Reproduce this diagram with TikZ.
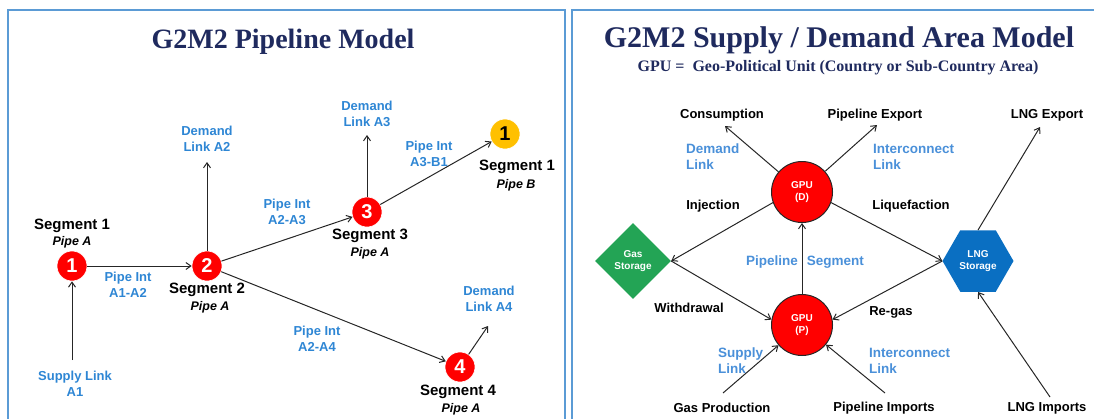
\documentclass[tikz,border=0pt]{standalone}
\usepackage{fontspec}
\setmainfont{Liberation Sans}
\newfontfamily\titlefont{Liberation Serif}
\usetikzlibrary{arrows.meta,shapes.geometric}
\definecolor{frameblue}{HTML}{5B9BD5}
\definecolor{navy}{HTML}{1F2A5E}
\definecolor{lblue}{HTML}{2E86D4}
\definecolor{rblue}{HTML}{4A90D9}
\definecolor{gred}{HTML}{FF0000}
\definecolor{gyellow}{HTML}{FFC000}
\definecolor{ggreen}{HTML}{23A455}
\definecolor{hexblue}{HTML}{0A6FC2}
\tikzset{
  frame/.style={draw=frameblue, line width=2.5pt},
  ttl/.style={text=navy, font=\titlefont\bfseries\fontsize{28}{30}\selectfont},
  segnode/.style={circle, fill=gred, draw=white, line width=0.6pt, minimum size=30pt, inner sep=0pt, text=white, font=\bfseries\fontsize{20}{20}\selectfont},
  seglab/.style={font=\bfseries\fontsize{15}{15}\selectfont, inner sep=1pt},
  pipelab/.style={font=\bfseries\itshape\fontsize{12.5}{12.5}\selectfont, inner sep=1pt},
  bluelab/.style={text=lblue, font=\bfseries\fontsize{13}{15.5}\selectfont, align=center, inner sep=1pt},
  rlab/.style={font=\bfseries\fontsize{13}{15}\selectfont, inner sep=1pt},
  rblab/.style={text=rblue, font=\bfseries\fontsize{13.5}{16}\selectfont, align=left, inner sep=1pt},
  shapetext/.style={text=white, align=center, inner sep=0pt, font=\bfseries\fontsize{10}{12}\selectfont},
  gpu/.style={shapetext, circle, fill=gred, draw=black!85, line width=1pt, minimum size=61pt},
  arr/.style={-{Straight Barb[length=5pt,width=7pt]}, line width=1pt, draw=black!85},
}
\begin{document}
\begin{tikzpicture}[x=1pt,y=-1pt]
\useasboundingbox (0,0) rectangle (1094,418);
\clip (0,0) rectangle (1094,418);
% frames
\draw[frame] (8,430) -- (8,10) -- (565,10) -- (565,430);
\draw[frame] (572,430) -- (572,10) -- (1110,10);

% ---------- left panel ----------
\node[ttl] (tl) at (283,42) {G2M2 Pipeline Model};

\node[segnode] (n1) at (72,266) {1};
\node[segnode] (n2) at (207,266) {2};
\node[segnode] (n3) at (367,212) {3};
\node[segnode] (n4) at (460,367) {4};
\node[segnode, fill=gyellow, text=black] (nb) at (505,134) {1};

\node[seglab] (s1) at (72,226) {Segment 1};
\node[pipelab] (p1) at (72,242) {Pipe A};
\node[seglab] (s2) at (207,290) {Segment 2};
\node[pipelab] (p2) at (210,307) {Pipe A};
\node[seglab] (s3) at (370,236) {Segment 3};
\node[pipelab] (p3) at (370,253) {Pipe A};
\node[seglab] (s4) at (458,392) {Segment 4};
\node[pipelab] (p4) at (461,409) {Pipe A};
\node[seglab] (sb) at (517,167) {Segment 1};
\node[pipelab] (pb) at (516,185) {Pipe B};

\node[bluelab] (dA2) at (207,139) {Demand\\Link A2};
\node[bluelab] (dA3) at (367,114) {Demand\\Link A3};
\node[bluelab] (pA3B1) at (429,154) {Pipe Int\\A3-B1};
\node[bluelab] (pA2A3) at (287,212) {Pipe Int\\A2-A3};
\node[bluelab] (pA1A2) at (128,285) {Pipe Int\\A1-A2};
\node[bluelab] (pA2A4) at (317,339) {Pipe Int\\A2-A4};
\node[bluelab] (dA4) at (489,299) {Demand\\Link A4};
\node[bluelab] (sA1) at (75,384) {Supply Link\\A1};

\coordinate (a2top) at (207,162);
\coordinate (a3top) at (367,135);
\coordinate (a4top) at (488,326);
\coordinate (a1bot) at (72,360);

\draw[arr] (n1) -- (n2);
\draw[arr] (n2) -- (a2top);
\draw[arr] (n2) -- (n3);
\draw[arr] (n2) -- (n4);
\draw[arr] (n3) -- (a3top);
\draw[arr] (n3) -- (nb);
\draw[arr] (n4) -- (a4top);
\draw[arr] (a1bot) -- (n1);

% ---------- right panel ----------
\node[ttl, font=\titlefont\bfseries\fontsize{30}{32}\selectfont] (tr) at (839,40) {G2M2 Supply / Demand Area Model};
\node[text=navy, font=\titlefont\bfseries\fontsize{16}{18}\selectfont] (sub) at (838,68) {GPU =\ \ Geo-Political Unit (Country or Sub-Country Area)};

\node[gpu] (gd) at (802,192) {GPU\\(D)};
\node[gpu] (gp) at (802,325) {GPU\\(P)};
\node[shapetext, diamond, aspect=1, fill=ggreen, minimum width=76pt, minimum height=76pt] (gs) at (633,261) {Gas\\Storage};
\node[shapetext, regular polygon, regular polygon sides=6, fill=hexblue, minimum size=71pt] (lng) at (978,261) {LNG\\Storage};

\node[rlab] (cons) at (722,115) {Consumption};
\node[rlab] (pexp) at (875,115) {Pipeline Export};
\node[rlab] (lexp) at (1047,115) {LNG Export};
\node[rlab] (inj) at (713,206) {Injection};
\node[rlab] (liq) at (911,206) {Liquefaction};
\node[rlab] (wd) at (689,308) {Withdrawal};
\node[rlab] (rg) at (891,312) {Re-gas};
\node[rlab] (gprod) at (722,408) {Gas Production};
\node[rlab] (pimp) at (884,408) {Pipeline Imports};
\node[rlab] (limp) at (1047,408) {LNG Imports};

\node[rblab, anchor=west] (dl) at (685,157) {Demand\\Link};
\node[rblab, anchor=west] (il1) at (872,157) {Interconnect\\Link};
\node[rblab] (ps) at (805,262) {Pipeline\hspace{9pt}Segment};
\node[rblab, anchor=west] (sl) at (717,361) {Supply\\Link};
\node[rblab, anchor=west] (il2) at (868,361) {Interconnect\\Link};

\coordinate (consA) at (725,126);
\coordinate (pexpA) at (877,125);
\coordinate (lexpA) at (1040,127);
\coordinate (limpA) at (1050,397);
\coordinate (gprodA) at (723,393);
\coordinate (pimpA) at (885,393);

\draw[arr] (gd) -- (consA);
\draw[arr] (gd) -- (pexpA);
\draw[arr] (gd.200) -- (gs.east);
\draw[arr] (gd.-20) -- (lng.west);
\draw[arr] (gs.east) -- (gp.170);
\draw[arr] (lng.west) -- (gp.10);
\draw[arr] (gp) -- (gd);
\draw[arr] (gprodA) -- (gp);
\draw[arr] (pimpA) -- (gp);
\draw[arr] (lng.north) -- (lexpA);
\draw[arr] (limpA) -- (lng.south);
\end{tikzpicture}
\end{document}
